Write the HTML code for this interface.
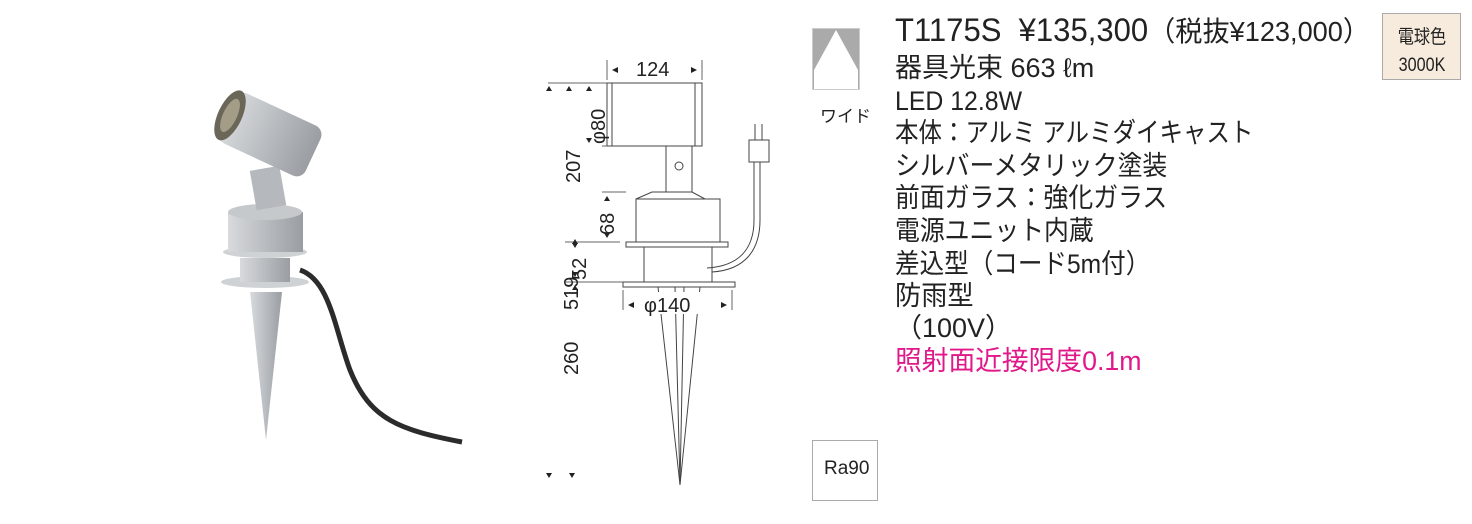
<!DOCTYPE html>
<html><head><meta charset="utf-8"><style>
body{margin:0;width:1472px;height:524px;background:#fff;overflow:hidden;position:relative;font-family:"Liberation Sans","Noto Sans CJK JP",sans-serif;}
.t{position:absolute;left:895px;font-size:27px;color:#222;white-space:nowrap;transform-origin:0 0;line-height:32px;}
</style></head><body>
<svg width="1472" height="524" style="position:absolute;left:0;top:0">
<defs>
<linearGradient id="g" x1="0" x2="1"><stop offset="0" stop-color="#d8dadc"/><stop offset=".5" stop-color="#b8bcc0"/><stop offset="1" stop-color="#9a9ea2"/></linearGradient>
</defs>
<!-- photo -->
<path d="M300 270 C330 280 335 330 350 370 C370 420 400 430 462 442" stroke="#2b2b2b" stroke-width="5" fill="none"/>
<polygon points="250,292 282,292 266,440" fill="url(#g)"/>
<ellipse cx="265" cy="282" rx="44" ry="6" fill="#cfd2d5"/>
<rect x="240" y="258" width="50" height="24" fill="url(#g)"/>
<ellipse cx="265" cy="252" rx="42" ry="6" fill="#cfd2d5"/>
<rect x="228" y="212" width="75" height="40" fill="url(#g)"/>
<ellipse cx="265" cy="212" rx="37" ry="8" fill="#c6c9cc"/>
<rect x="253" y="168" width="30" height="40" fill="#b5b9bd" transform="rotate(-10 268 188)"/>
<g transform="rotate(25 265 135)">
<rect x="222" y="105" width="95" height="55" rx="10" fill="url(#g)"/>
<ellipse cx="225" cy="132" rx="12" ry="27" fill="#6a6658"/>
<ellipse cx="225" cy="132" rx="7" ry="18" fill="#a39d88"/>
</g>
<!-- drawing body -->
<g stroke="#444" stroke-width="1" fill="#fff">
<rect x="607" y="83" width="95" height="63"/>
<line x1="612" y1="83" x2="612" y2="146"/><line x1="695" y1="83" x2="695" y2="146"/>
<rect x="666" y="146" width="26" height="46"/>
<circle cx="679" cy="166" r="4"/>
<polygon points="666,192 692,192 705,199 636,199 652,192"/>
<rect x="636" y="199" width="84" height="43"/>
<rect x="626" y="242" width="102" height="5"/>
<rect x="644" y="247" width="68" height="35"/>
<rect x="623" y="282" width="112" height="5"/>
<polygon points="658,287 700,287 680,485"/>
<line x1="675" y1="287" x2="680" y2="485"/><line x1="684" y1="287" x2="680" y2="485"/>
<path d="M712 272 C745 270 760 250 760 220 L760 160" fill="none"/>
<path d="M707 268 C740 266 754 248 754 220 L754 160" fill="none"/>
<rect x="749" y="140" width="20" height="22"/>
<line x1="755" y1="124" x2="755" y2="140"/><line x1="762" y1="124" x2="762" y2="140"/>
</g>
<!-- drawing dims -->
<g stroke="#666" stroke-width="1" fill="none">
<line x1="607" y1="60" x2="607" y2="80"/><line x1="702" y1="60" x2="702" y2="80"/>
<line x1="548" y1="83" x2="607" y2="83"/>
<line x1="602" y1="146" x2="607" y2="146"/>
<line x1="602" y1="192" x2="626" y2="192"/>
<line x1="565" y1="242" x2="620" y2="242"/>
<line x1="565" y1="282" x2="623" y2="282"/>
<line x1="623" y1="290" x2="623" y2="310"/><line x1="732" y1="290" x2="732" y2="310"/>
</g>
<g fill="#222">
<polygon points="612,70 618,67 618,73"/><polygon points="697,70 691,67 691,73"/>
<polygon points="549,86 552,91 546,91"/>
<polygon points="569,86 572,91 566,91"/><polygon points="589,86 592,91 586,91"/>
<polygon points="589,143 592,138 586,138"/>
<polygon points="607,196 610,201 604,201"/><polygon points="607,238 610,233 604,233"/>
<polygon points="575,239 578,244 572,244"/>
<polygon points="575,248 578,243 572,243"/><polygon points="575,277 578,272 572,272"/>
<polygon points="575,285 578,290 572,290"/>
<polygon points="628,305 634,302 634,308"/><polygon points="727,305 721,302 721,308"/>
<polygon points="549,478 552,473 546,473"/><polygon points="572,478 575,473 569,473"/>
</g>
<g font-family="Liberation Sans,sans-serif" font-size="20" fill="#222">
<rect x="640" y="292" width="62" height="22" fill="#fff"/>
<text x="644" y="312">φ140</text>
<text x="636" y="76">124</text>
<text transform="translate(605,144) rotate(-90)">φ80</text>
<text transform="translate(580,183) rotate(-90)">207</text>
<text transform="translate(614,235) rotate(-90)">68</text>
<text transform="translate(586,280) rotate(-90)">52</text>
<text transform="translate(578,310) rotate(-90)">519</text>
<text transform="translate(578,375) rotate(-90)">260</text>
</g>
<!-- icons -->
<rect x="812" y="28" width="48" height="62" fill="#aaa"/>
<polygon points="836,30 858,70 858,90 814,90 814,70" fill="#fff"/>
<rect x="812.5" y="28.5" width="47" height="61" fill="none" stroke="#ccc"/>
<rect x="1382.5" y="13.5" width="78" height="66" fill="#f6ebdd" stroke="#aaa"/>
<rect x="812.5" y="440.5" width="65" height="60" fill="#fff" stroke="#aaa"/>
</svg>
<div style="position:absolute;left:820px;top:102px;font-size:17px;color:#222;">ワイド</div>
<div style="position:absolute;left:1386px;top:24px;font-size:19px;line-height:28px;color:#222;text-align:center;width:72px;transform:scaleX(.85);">電球色<br>3000K</div>
<div style="position:absolute;left:824px;top:458px;font-size:19px;color:#222;">Ra90</div>
<div class="t" style="top:14px;font-size:32px;transform:scaleX(.97)">T1175S&nbsp; ¥135,300<span style="font-size:28px">（税抜¥123,000）</span></div>
<div class="t" style="top:52px;transform:scaleX(1.0)">器具光束 663 ℓm</div>
<div class="t" style="top:85px;transform:scaleX(.92)">LED 12.8W</div>
<div class="t" style="top:117px;transform:scaleX(.87)">本体：アルミ アルミダイキャスト</div>
<div class="t" style="top:150px;transform:scaleX(.92)">シルバーメタリック塗装</div>
<div class="t" style="top:182px;transform:scaleX(.92)">前面ガラス：強化ガラス</div>
<div class="t" style="top:215px;transform:scaleX(.92)">電源ユニット内蔵</div>
<div class="t" style="top:248px;transform:scaleX(.91)">差込型（コード5m付）</div>
<div class="t" style="top:280px;transform:scaleX(.97)">防雨型</div>
<div class="t" style="top:312px;transform:scaleX(1.0)">（100V）</div>
<div class="t" style="top:345px;color:#e0188a;transform:scaleX(.99)">照射面近接限度0.1m</div>
</body></html>
